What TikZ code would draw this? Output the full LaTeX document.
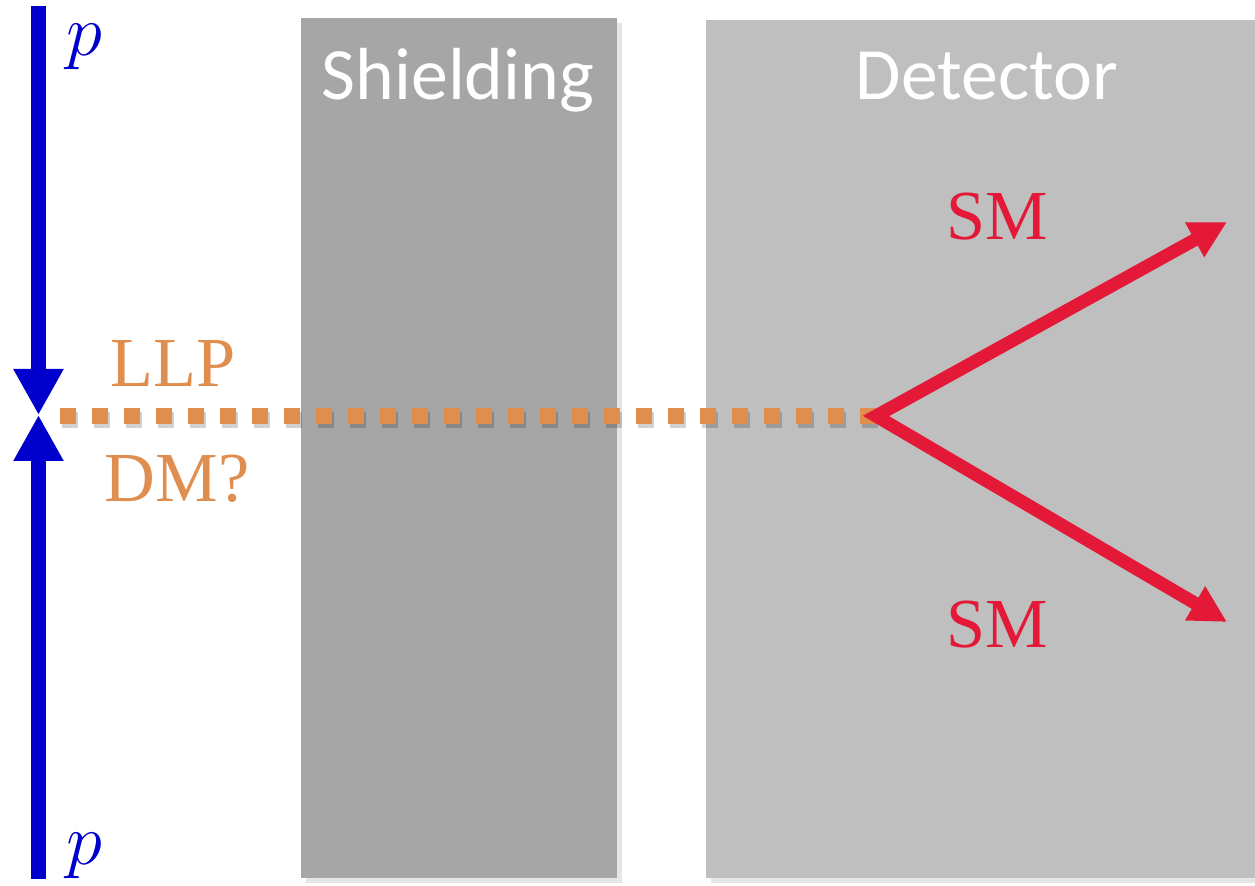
\documentclass[tikz,border=0pt]{standalone}
\usepackage{fontspec}
\setmainfont{Liberation Serif}
\newfontfamily\slabfont{Carlito}
\usepackage{xcolor}
\usepackage{tikz}
\usetikzlibrary{arrows.meta,shadows}

\definecolor{protonblue}{RGB}{0,0,204}
\definecolor{llporange}{RGB}{224,142,80}
\definecolor{smred}{RGB}{227,25,55}
\definecolor{shieldgray}{RGB}{166,166,166}
\definecolor{detgray}{RGB}{191,191,191}

\tikzset{
  slab/.style={drop shadow={shadow xshift=1.5pt, shadow yshift=-1.5pt, opacity=0.2}},
  beam/.style={line width=0.15cm, protonblue, -{Triangle[length=0.46cm,width=0.47cm]}},
  smtrack/.style={line width=0.13cm, smred, line join=miter,
    {Triangle[length=0.37cm,width=0.37cm]}-{Triangle[length=0.37cm,width=0.37cm]}},
  llptrack/.style={line width=0.155cm, llporange, dash pattern=on 0.16cm off 0.16cm},
  partlabel/.style={font=\fontsize{20}{24}\selectfont, anchor=base},
  protonlabel/.style={protonblue, font=\fontsize{22}{26}\selectfont, anchor=base, inner sep=0pt},
  slablabel/.style={font=\slabfont\fontsize{21}{25}\selectfont, white, anchor=base},
}

\begin{document}
\begin{tikzpicture}
    \useasboundingbox (0,0) rectangle (12.55,8.86);

    % Shielding and detector
    \fill[shieldgray, slab] (3.01,0.08) rectangle (6.17,8.68);
    \fill[detgray, slab] (7.06,0.08) rectangle (12.55,8.66);
    \node[slablabel] (shieldlabel) at (4.58,7.86) {Shielding};
    \node[slablabel] (detlabel) at (9.87,7.86) {Detector};

    % Colliding protons
    \coordinate (ptop) at (0.385,8.80);
    \coordinate (pbot) at (0.385,0.07);
    \coordinate (vtx) at (0.385,4.71);
    \draw[beam] (ptop) -- (vtx);
    \draw[beam] (pbot) -- (vtx);
    \node[protonlabel] (ptoplabel) at (0.84,8.30) {$p$};
    \node[protonlabel] (pbotlabel) at (0.84,0.21) {$p$};

    % Long-lived particle
    \coordinate (llpstart) at (0.60,4.70);
    \coordinate (dv) at (8.76,4.70);
    \draw[llptrack, black, opacity=0.18] ([shift={(0.02,-0.04)}]llpstart) -- ([shift={(0.02,-0.04)}]dv);
    \draw[llptrack] (llpstart) -- (dv);
    \node[partlabel, llporange] (llplabel) at (1.73,4.99) {LLP};
    \node[partlabel, llporange] (dmlabel) at (1.77,3.84) {DM?};

    % Decay products
    \coordinate (smup) at (12.27,6.64);
    \coordinate (smdown) at (12.27,2.64);
    \draw[smtrack] (smup) -- (dv) -- (smdown);
    \node[partlabel, smred] (smuplabel) at (9.97,6.46) {SM};
    \node[partlabel, smred] (smdownlabel) at (9.97,2.38) {SM};
\end{tikzpicture}
\end{document}
